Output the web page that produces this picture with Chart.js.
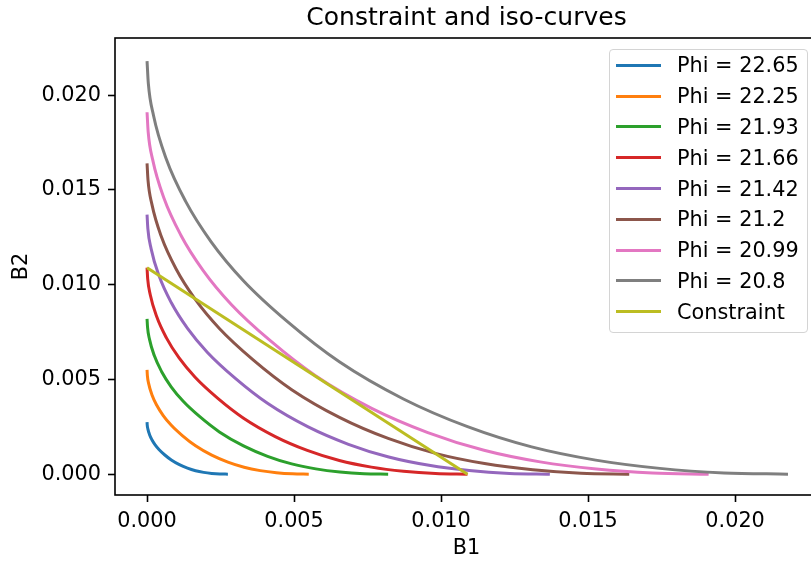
<!DOCTYPE html>
<html>
<head>
<meta charset="utf-8">
<script src="https://cdn.jsdelivr.net/npm/chart.js@4.4.0/dist/chart.umd.min.js"></script>
<style>
body { margin: 0; background: #fff; }
#wrap { position: relative; width: 811px; height: 561px; overflow: hidden; }
#legend { position: absolute; left: 609px; top: 49px; width: 199px; height: 284px; box-sizing: border-box;
  border: 1px solid #d4d4d4; border-radius: 4px; background: rgba(255,255,255,0.8);
  font-family: 'DejaVu Sans'; font-size: 20.8px; color: #000; }
.item { display: flex; align-items: center; height: 30.8px; white-space: nowrap; }
.swatch { margin-left: 6px; width: 45px; height: 3px; margin-right: 16px; }
</style>
</head>
<body>
<div id="wrap">
  <canvas id="chart" width="830" height="561"></canvas>
  <div id="legend"></div>
</div>
<script>
// iso-curve values (B1, B2)
const phiValues = ['22.65', '22.25', '21.93', '21.66', '21.42', '21.2', '20.99', '20.8'];

const phi2265B1 = [0, 0.0000055, 0.0000275, 0.0000825, 0.000165, 0.000275, 0.000413, 0.000605, 0.000825, 0.0011, 0.001375, 0.00165, 0.001925, 0.0022, 0.002475, 0.00275];
const phi2265B2 = [0.00275, 0.002602, 0.00239, 0.002098, 0.001818, 0.001547, 0.00129, 0.001012, 0.000748, 0.000501, 0.000316, 0.000182, 0.000094, 0.000039, 0.000008, 0];

const phi2225B1 = [0, 0.000011, 0.000055, 0.000165, 0.00033, 0.00055, 0.000825, 0.00121, 0.00165, 0.0022, 0.00275, 0.0033, 0.00385, 0.0044, 0.00495, 0.0055];
const phi2225B2 = [0.0055, 0.005203, 0.00478, 0.004197, 0.003636, 0.003094, 0.00258, 0.002024, 0.001496, 0.001001, 0.000633, 0.000363, 0.000187, 0.000077, 0.000017, 0];

const phi2193B1 = [0, 0.0000164, 0.000082, 0.000246, 0.000492, 0.00082, 0.00123, 0.001804, 0.00246, 0.00328, 0.0041, 0.00492, 0.00574, 0.00656, 0.00738, 0.0082];
const phi2193B2 = [0.0082, 0.007757, 0.007126, 0.006257, 0.00542, 0.004613, 0.003846, 0.003018, 0.00223, 0.001492, 0.000943, 0.000541, 0.000279, 0.000115, 0.000025, 0];

const phi2166B1 = [0, 0.0000218, 0.000109, 0.000327, 0.000654, 0.00109, 0.001635, 0.002398, 0.00327, 0.00436, 0.00545, 0.00654, 0.00763, 0.00872, 0.00981, 0.0109];
const phi2166B2 = [0.0109, 0.010311, 0.009472, 0.008317, 0.007205, 0.006131, 0.005112, 0.004011, 0.002965, 0.001984, 0.001254, 0.000719, 0.000371, 0.000153, 0.000033, 0];

const phi2142B1 = [0, 0.0000274, 0.000137, 0.000411, 0.000822, 0.00137, 0.002055, 0.003014, 0.00411, 0.00548, 0.00685, 0.00822, 0.00959, 0.01096, 0.01233, 0.0137];
const phi2142B2 = [0.0137, 0.01296, 0.011905, 0.010453, 0.009056, 0.007706, 0.006425, 0.005042, 0.003726, 0.002493, 0.001576, 0.000904, 0.000466, 0.000192, 0.000041, 0];

const phi2120B1 = [0, 0.0000328, 0.000164, 0.000492, 0.000984, 0.00164, 0.00246, 0.003608, 0.00492, 0.00656, 0.0082, 0.00984, 0.01148, 0.01312, 0.01476, 0.0164];
const phi2120B2 = [0.0164, 0.015514, 0.014252, 0.012513, 0.01084, 0.009225, 0.007692, 0.006035, 0.004461, 0.002985, 0.001886, 0.001082, 0.000558, 0.00023, 0.000049, 0];

const phi2099B1 = [0, 0.0000382, 0.000191, 0.000573, 0.001146, 0.00191, 0.002865, 0.004202, 0.00573, 0.00764, 0.00955, 0.01146, 0.01337, 0.01528, 0.01719, 0.0191];
const phi2099B2 = [0.0191, 0.018069, 0.016598, 0.014573, 0.012625, 0.010744, 0.008958, 0.007029, 0.005195, 0.003476, 0.002197, 0.001261, 0.000649, 0.000267, 0.000057, 0];

const phi2080B1 = [0, 0.0000436, 0.000218, 0.000654, 0.001308, 0.00218, 0.00327, 0.004796, 0.00654, 0.00872, 0.0109, 0.01308, 0.01526, 0.01744, 0.01962, 0.0218];
const phi2080B2 = [0.0218, 0.020623, 0.018944, 0.016633, 0.01441, 0.012263, 0.010224, 0.008022, 0.00593, 0.003968, 0.002507, 0.001439, 0.000741, 0.000305, 0.000065, 0];

const constraintB1 = [0, 0.0109];
const constraintB2 = [0.0109, 0];

const xTicks = [0, 0.005, 0.010, 0.015, 0.020];
const yTicks = [0, 0.005, 0.010, 0.015, 0.020];

const lineColors = ['#1f77b4', '#ff7f0e', '#2ca02c', '#d62728', '#9467bd', '#8c564b', '#e377c2', '#7f7f7f', '#bcbd22'];

const curves = [
    [phi2265B1, phi2265B2], [phi2225B1, phi2225B2], [phi2193B1, phi2193B2], [phi2166B1, phi2166B2],
    [phi2142B1, phi2142B2], [phi2120B1, phi2120B2], [phi2099B1, phi2099B2], [phi2080B1, phi2080B2]
];

const datasets = curves.map((c, i) => ({
    label: 'Phi = ' + phiValues[i],
    data: c[0].map((x, j) => ({ x: x, y: c[1][j] })),
    borderColor: lineColors[i],
    borderWidth: 3,
    pointRadius: 0,
    cubicInterpolationMode: 'monotone',
    fill: false,
    order: 20 - i
}));
datasets.push({
    label: 'Constraint',
    data: constraintB1.map((x, j) => ({ x: x, y: constraintB2[j] })),
    borderColor: lineColors[8],
    borderWidth: 3,
    pointRadius: 0,
    fill: false,
    order: 0
});

// frame round the plot area, like the matplotlib spines
const frame = {
    id: 'frame',
    afterDatasetsDraw(chart) {
        const a = chart.chartArea, ctx = chart.ctx;
        ctx.save();
        ctx.strokeStyle = '#000';
        ctx.lineWidth = 1.6;
        ctx.strokeRect(a.left, a.top, a.right - a.left, a.bottom - a.top);
        ctx.restore();
    }
};

Chart.defaults.font.family = 'DejaVu Sans';
Chart.defaults.color = '#000';

const tickFont = { family: 'DejaVu Sans', size: 20.8 };

new Chart(document.getElementById('chart').getContext('2d'), {
    type: 'line',
    data: { datasets: datasets },
    plugins: [frame],
    options: {
        responsive: false,
        animation: false,
        devicePixelRatio: 1,
        layout: { padding: { left: 0, right: 12, top: 0, bottom: 0 } },
        plugins: {
            legend: { display: false },
            tooltip: { enabled: false },
            title: {
                display: true,
                text: 'Constraint and iso-curves',
                fullSize: false,
                color: '#000',
                font: { family: 'DejaVu Sans', size: 25, weight: 'normal' },
                padding: { top: 3, bottom: 5 }
            }
        },
        scales: {
            x: {
                type: 'linear',
                min: -0.00109,
                max: 0.02282,
                afterBuildTicks: axis => { axis.ticks = xTicks.map(v => ({ value: v })); },
                afterFit: axis => { axis.height = 66; },
                ticks: { font: tickFont, color: '#000', padding: 7, maxRotation: 0, autoSkip: false, callback: v => v.toFixed(3) },
                grid: { drawOnChartArea: false, drawTicks: true, tickLength: 7, tickWidth: 1.6, tickColor: '#000' },
                border: { display: false },
                title: { display: true, text: 'B1', color: '#000', font: { family: 'DejaVu Sans', size: 20.8 }, padding: { top: 0, bottom: 0 } }
            },
            y: {
                type: 'linear',
                min: -0.0011,
                max: 0.02302,
                afterBuildTicks: axis => { axis.ticks = yTicks.map(v => ({ value: v })); },
                afterFit: axis => { axis.width = 115; },
                ticks: { font: tickFont, color: '#000', padding: 7, autoSkip: false, callback: v => v.toFixed(3) },
                grid: { drawOnChartArea: false, drawTicks: true, tickLength: 7, tickWidth: 1.6, tickColor: '#000' },
                border: { display: false },
                title: { display: true, text: 'B2', color: '#000', font: { family: 'DejaVu Sans', size: 20.8 }, padding: { top: 9, bottom: 0 } }
            }
        }
    }
});

// legend box drawn as html, in the upper right of the plot
const legendBox = document.getElementById('legend');
datasets.forEach(ds => {
    const row = document.createElement('div');
    row.className = 'item';
    const sw = document.createElement('span');
    sw.className = 'swatch';
    sw.style.background = ds.borderColor;
    const txt = document.createElement('span');
    txt.textContent = ds.label;
    row.appendChild(sw);
    row.appendChild(txt);
    legendBox.appendChild(row);
});
</script>
</body>
</html>
